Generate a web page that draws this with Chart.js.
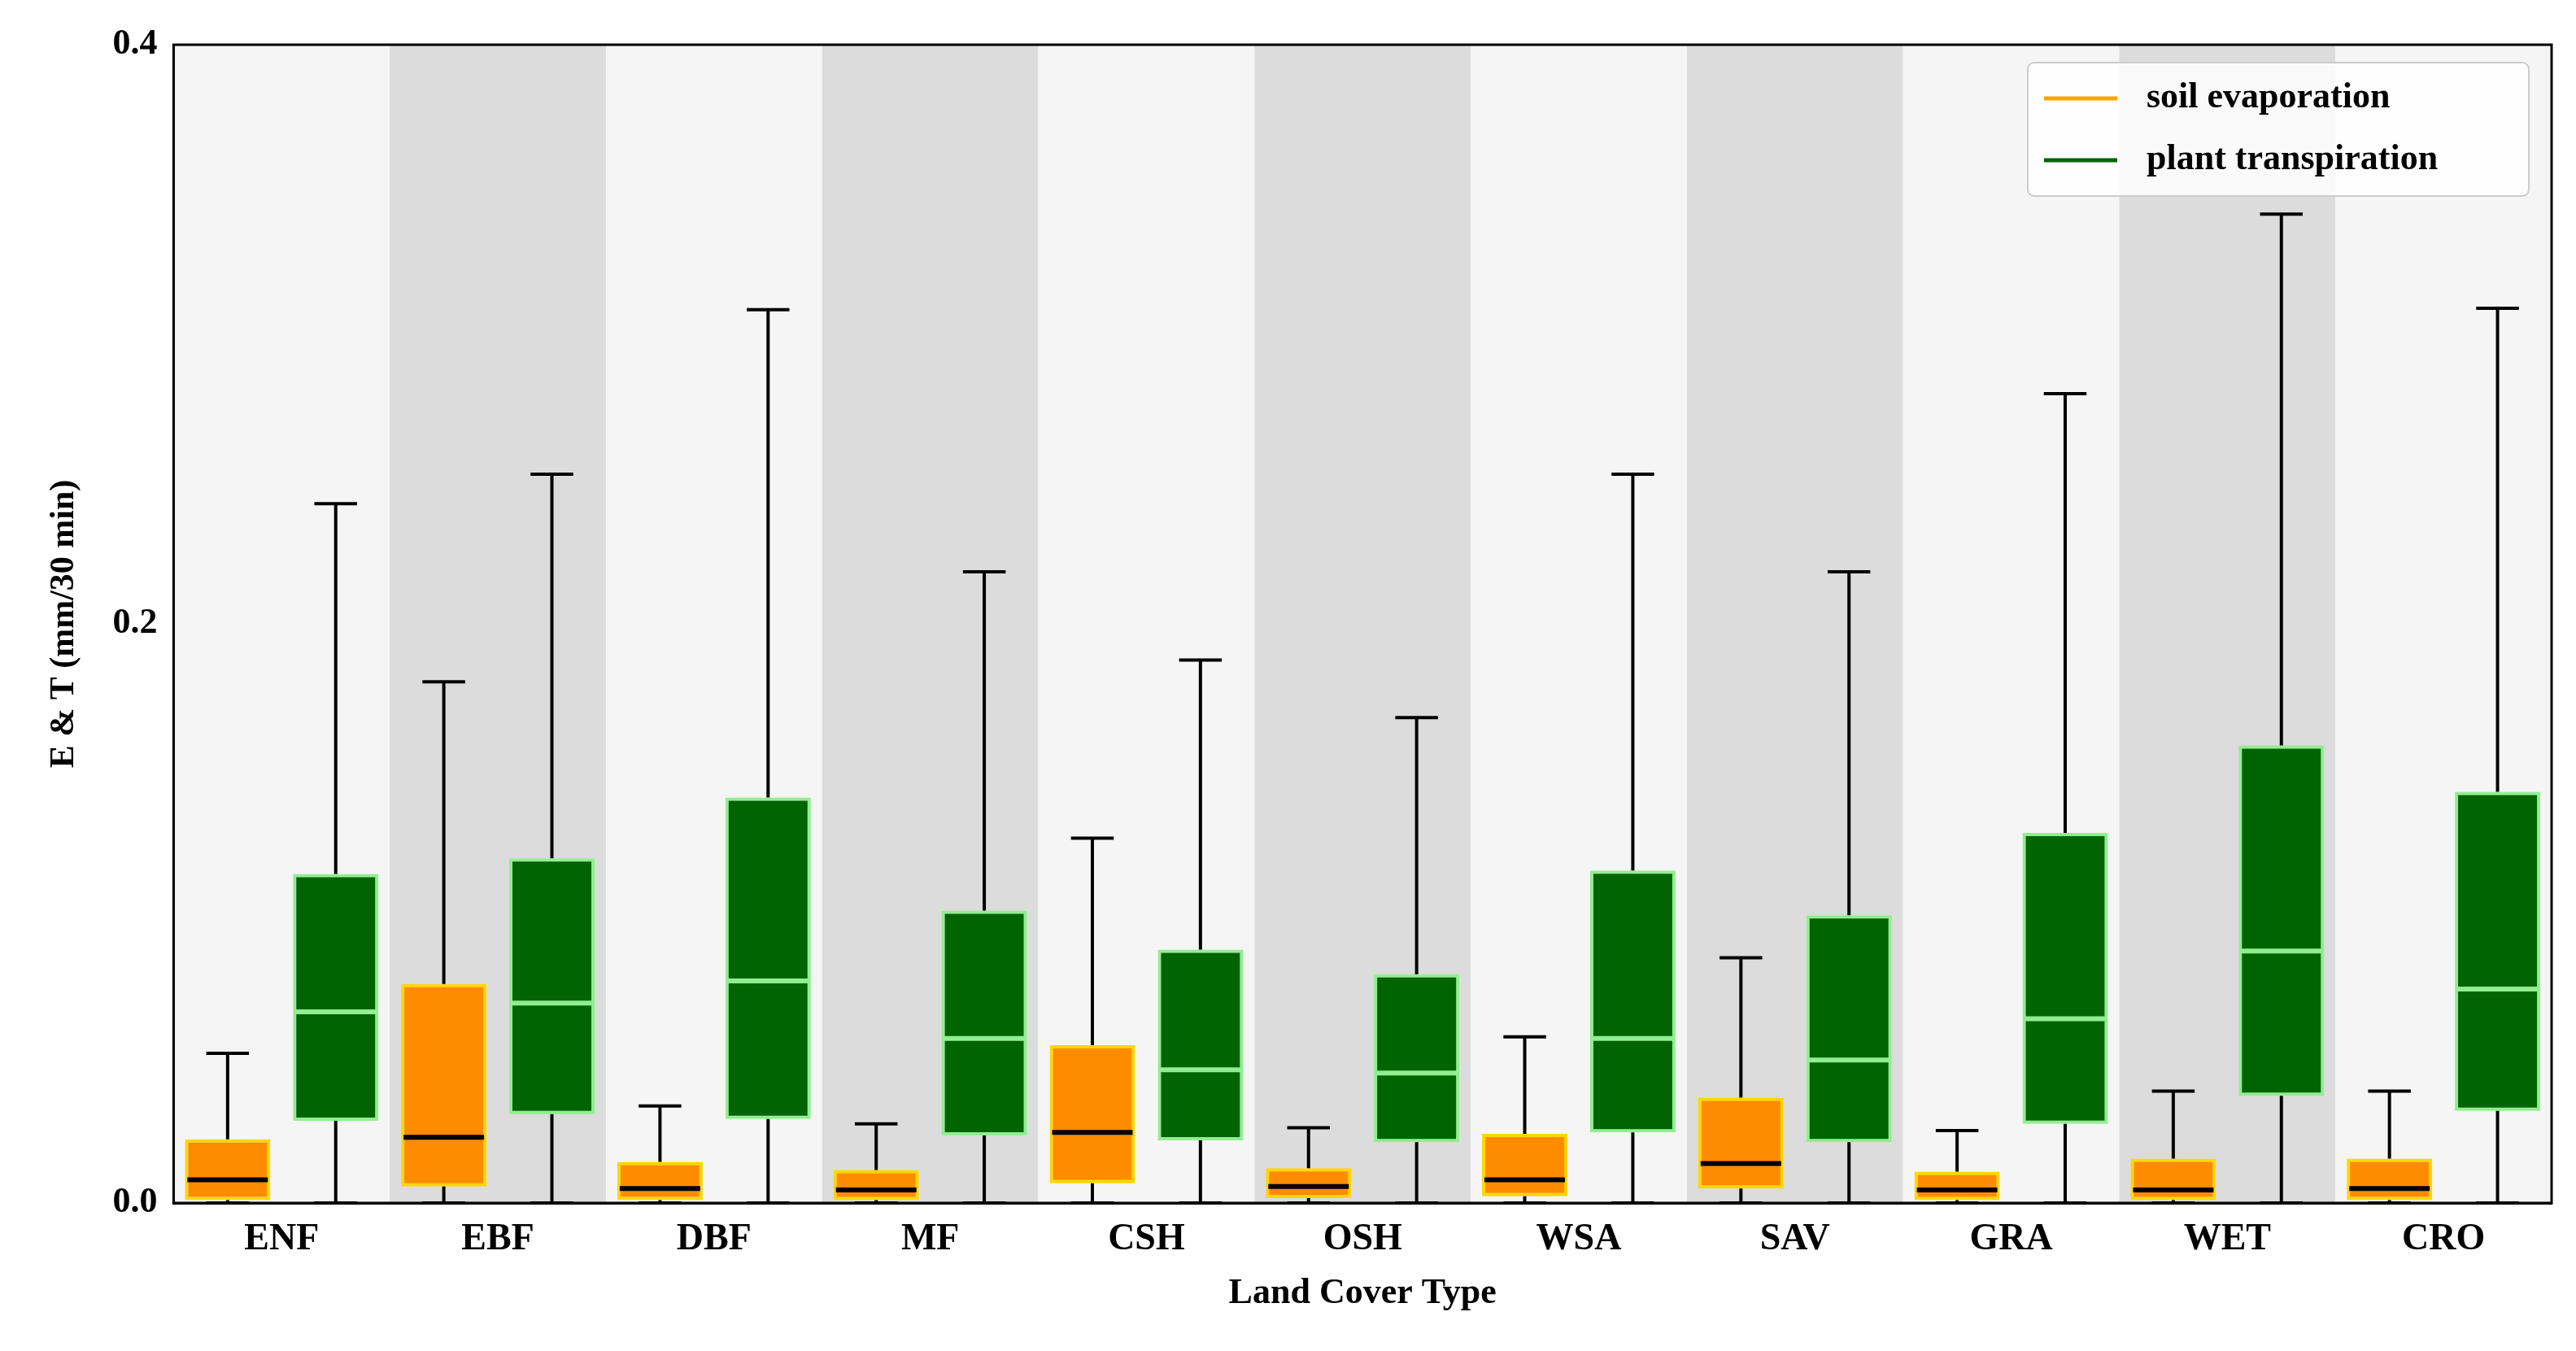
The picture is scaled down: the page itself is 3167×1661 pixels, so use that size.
<!DOCTYPE html>
<html>
<head>
<meta charset="utf-8">
<script src="https://cdn.jsdelivr.net/npm/chart.js@4.4.1/dist/chart.umd.min.js"></script>
<style>
  html, body { margin: 0; padding: 0; background: #fff; }
  canvas { display: block; }
</style>
</head>
<body>
<canvas id="chart" width="3167" height="1661"></canvas>
<script>
const categories = ['ENF', 'EBF', 'DBF', 'MF', 'CSH', 'OSH', 'WSA', 'SAV', 'GRA', 'WET', 'CRO'];

// soil evaporation: min, q1, median, q3, max
const evapMin = [0, 0, 0, 0, 0, 0, 0, 0, 0, 0, 0];
const evapQ1  = [0.001, 0.0057, 0.001, 0.001, 0.0068, 0.0017, 0.0023, 0.005, 0.001, 0.001, 0.001];
const evapMed = [0.008, 0.0227, 0.005, 0.0045, 0.0244, 0.0057, 0.008, 0.0136, 0.0045, 0.0045, 0.005];
const evapQ3  = [0.022, 0.0756, 0.0142, 0.0114, 0.0545, 0.012, 0.0239, 0.0364, 0.0108, 0.0153, 0.0153];
const evapMax = [0.0517, 0.180, 0.0335, 0.0273, 0.126, 0.026, 0.0574, 0.0847, 0.025, 0.0386, 0.0386];

// plant transpiration
const transMin = [0, 0, 0, 0, 0, 0, 0, 0, 0, 0, 0];
const transQ1  = [0.0284, 0.0307, 0.029, 0.0233, 0.0216, 0.021, 0.0244, 0.021, 0.0273, 0.037, 0.0318];
const transMed = [0.066, 0.069, 0.0767, 0.0568, 0.046, 0.0449, 0.0568, 0.0494, 0.0636, 0.087, 0.0739];
const transQ3  = [0.1136, 0.119, 0.140, 0.101, 0.0875, 0.079, 0.1148, 0.0994, 0.1278, 0.158, 0.142];
const transMax = [0.2415, 0.2517, 0.3085, 0.218, 0.1875, 0.1676, 0.2517, 0.218, 0.2795, 0.3415, 0.309];

const yTicks = [0, 0.2, 0.4];

const FONT = '"Liberation Serif", "DejaVu Serif", serif';

const stats = [
  { min: evapMin, med: evapMed, max: evapMax, medColor: '#000000' },
  { min: transMin, med: transMed, max: transMax, medColor: '#90ee90' }
];

// alternating background bands
const bandPlugin = {
  id: 'bands',
  beforeDraw(chart) {
    const { ctx, chartArea, scales } = chart;
    const x = scales.x;
    const w = x.getPixelForValue(1) - x.getPixelForValue(0);
    ctx.save();
    categories.forEach((c, i) => {
      const cx = x.getPixelForValue(i);
      ctx.fillStyle = i % 2 ? '#dcdcdc' : '#f5f5f5';
      ctx.fillRect(cx - w / 2, chartArea.top, w, chartArea.bottom - chartArea.top);
    });
    ctx.restore();
  }
};

// whiskers, caps, medians
const boxPlugin = {
  id: 'boxes',
  afterDatasetsDraw(chart) {
    const { ctx, scales, chartArea } = chart;
    const y = scales.y;
    ctx.save();
    stats.forEach((s, d) => {
      const meta = chart.getDatasetMeta(d);
      const ds = chart.data.datasets[d];
      meta.data.forEach((bar, i) => {
        const bx = bar.x, bw = bar.width;
        const [q1, q3] = ds.data[i];
        ctx.strokeStyle = '#000';
        ctx.lineWidth = 4;
        ctx.beginPath();
        ctx.moveTo(bx, y.getPixelForValue(q3));
        ctx.lineTo(bx, y.getPixelForValue(s.max[i]));
        ctx.moveTo(bx, y.getPixelForValue(q1));
        ctx.lineTo(bx, y.getPixelForValue(s.min[i]));
        ctx.moveTo(bx - bw / 4, y.getPixelForValue(s.max[i]));
        ctx.lineTo(bx + bw / 4, y.getPixelForValue(s.max[i]));
        ctx.moveTo(bx - bw / 4, y.getPixelForValue(s.min[i]));
        ctx.lineTo(bx + bw / 4, y.getPixelForValue(s.min[i]));
        ctx.stroke();
        ctx.strokeStyle = s.medColor;
        ctx.lineWidth = 6;
        ctx.beginPath();
        ctx.moveTo(bx - bw / 2 + 3, y.getPixelForValue(s.med[i]));
        ctx.lineTo(bx + bw / 2 - 3, y.getPixelForValue(s.med[i]));
        ctx.stroke();
      });
    });
    // frame
    ctx.strokeStyle = '#000';
    ctx.lineWidth = 3;
    ctx.strokeRect(chartArea.left, chartArea.top, chartArea.right - chartArea.left, chartArea.bottom - chartArea.top);
    ctx.restore();
  }
};

// legend box in top right corner
const legendPlugin = {
  id: 'boxLegend',
  afterDraw(chart) {
    const { ctx, chartArea } = chart;
    const items = [['soil evaporation', '#ffa500'], ['plant transpiration', '#006400']];
    const w = 616, h = 164;
    const x0 = chartArea.right - w - 28, y0 = chartArea.top + 22;
    ctx.save();
    ctx.fillStyle = 'rgba(255,255,255,0.85)';
    ctx.strokeStyle = '#cccccc';
    ctx.lineWidth = 2;
    ctx.beginPath();
    ctx.roundRect(x0, y0, w, h, 8);
    ctx.fill();
    ctx.stroke();
    ctx.font = 'bold 44px ' + FONT;
    ctx.textBaseline = 'middle';
    items.forEach(([label, color], i) => {
      const yy = y0 + 44 + i * 76;
      ctx.strokeStyle = color;
      ctx.lineWidth = 5;
      ctx.beginPath();
      ctx.moveTo(x0 + 20, yy);
      ctx.lineTo(x0 + 110, yy);
      ctx.stroke();
      ctx.fillStyle = '#000';
      ctx.fillText(label, x0 + 146, yy);
    });
    ctx.restore();
  }
};

new Chart(document.getElementById('chart'), {
  type: 'bar',
  data: {
    labels: categories,
    datasets: [
      {
        label: 'soil evaporation',
        data: evapQ1.map((v, i) => [v, evapQ3[i]]),
        backgroundColor: '#ff8c00',
        borderColor: '#ffd700',
        borderWidth: 4,
        borderSkipped: false
      },
      {
        label: 'plant transpiration',
        data: transQ1.map((v, i) => [v, transQ3[i]]),
        backgroundColor: '#006400',
        borderColor: '#90ee90',
        borderWidth: 4,
        borderSkipped: false
      }
    ]
  },
  options: {
    responsive: false,
    animation: false,
    devicePixelRatio: 1,
    barPercentage: 0.79,
    categoryPercentage: 1.0,
    layout: { padding: { top: 55, right: 30, bottom: 40, left: 50 } },
    plugins: { legend: { display: false }, tooltip: { enabled: false } },
    scales: {
      x: {
        grid: { display: false, drawTicks: true, tickLength: 10, tickColor: '#000' },
        border: { color: '#000', width: 3 },
        ticks: { color: '#000', font: { family: FONT, size: 46, weight: 'bold' }, padding: 8 },
        title: { display: true, text: 'Land Cover Type', color: '#000', font: { family: FONT, size: 44, weight: 'bold' } }
      },
      y: {
        min: 0, max: 0.4,
        afterBuildTicks(axis) { axis.ticks = yTicks.map(v => ({ value: v })); },
        grid: { display: false, drawTicks: true, tickLength: 10, tickColor: '#000' },
        border: { color: '#000', width: 3 },
        ticks: { color: '#000', font: { family: FONT, size: 44, weight: 'bold' }, padding: 10, callback: v => v.toFixed(1) },
        title: { display: true, text: 'E & T (mm/30 min)', color: '#000', font: { family: FONT, size: 42, weight: 'bold' }, padding: { bottom: 24 } }
      }
    }
  },
  plugins: [bandPlugin, boxPlugin, legendPlugin]
});
</script>
</body>
</html>
